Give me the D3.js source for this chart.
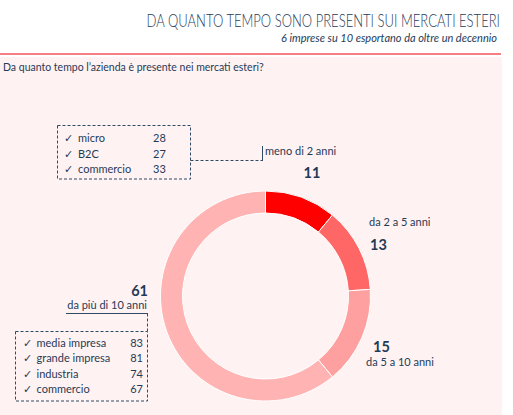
<!DOCTYPE html>
<html lang="it">
<head>
<meta charset="utf-8">
<title>Da quanto tempo sono presenti sui mercati esteri</title>
<script src="https://d3js.org/d3.v7.min.js"></script>
<style>
  body { margin: 0; background: #fff; }
  svg { font-family: Lato, "Open Sans", sans-serif; }
  .t { fill: #1f3b57; }
  .bold { font-weight: bold; }
</style>
</head>
<body>
<div id="viz"></div>
<script>
var categories = ["meno di 2 anni", "da 2 a 5 anni", "da 5 a 10 anni", "da più di 10 anni"];
var values = [11, 13, 15, 61];
var colors = ["#ff0000", "#ff6666", "#ffa0a0", "#ffb3b3"];

var box1Labels = ["micro", "B2C", "commercio"];
var box1Values = [28, 27, 33];
var box2Labels = ["media impresa", "grande impresa", "industria", "commercio"];
var box2Values = [83, 81, 74, 67];

var W = 513, H = 415;
var svg = d3.select("#viz").append("svg").attr("width", W).attr("height", H);

// sfondo rosa + intestazione
svg.append("rect").attr("x", 0).attr("y", 57).attr("width", 502).attr("height", H - 57).attr("fill", "#fff2f2");
svg.append("line").attr("x1", 0).attr("x2", 501).attr("y1", 54).attr("y2", 54)
  .attr("stroke", "#f2555a").attr("stroke-width", 1.5);

// titolo: font stretto in orizzontale per avvicinarsi a Calibri Light
svg.append("g").attr("transform", "translate(500,27) scale(0.745,1)")
  .append("text").attr("class", "t")
  .attr("text-anchor", "end").style("font-size", "17.5px").style("font-weight", 300)
  .text("DA QUANTO TEMPO SONO PRESENTI SUI MERCATI ESTERI");
svg.append("text").attr("class", "t").attr("x", 497).attr("y", 42)
  .attr("text-anchor", "end").style("font-size", "11px").style("font-style", "italic")
  .text("6 imprese su 10 esportano da oltre un decennio");
svg.append("text").attr("class", "t").attr("x", 3).attr("y", 71)
  .style("font-size", "10.5px")
  .text("Da quanto tempo l\u2019azienda è presente nei mercati esteri?");

// ciambella
var cx = 265.5, cy = 296, R = 105, r = 83;
var pie = d3.pie().sort(null).value(function(d) { return d; });
var arc = d3.arc().innerRadius(r).outerRadius(R);
var g = svg.append("g").attr("transform", "translate(" + cx + "," + cy + ")");
g.selectAll("path").data(pie(values)).enter().append("path")
  .attr("d", arc)
  .attr("fill", function(d, i) { return colors[i]; })
  .attr("stroke", "#fff").attr("stroke-width", 1);

// etichette
function label(x, y, txt, opts) {
  var t = svg.append("text").attr("class", "t" + (opts.bold ? " bold" : ""))
    .attr("x", x).attr("y", y).style("font-size", opts.size + "px").text(txt);
  if (opts.anchor) t.attr("text-anchor", opts.anchor);
  return t;
}
label(265, 155, categories[0], {size: 11});
label(312, 178, values[0], {size: 14.5, bold: true, anchor: "middle"});
label(369, 226, categories[1], {size: 11});
label(370, 250, values[1], {size: 14.5, bold: true});
label(373, 352, values[2], {size: 14.5, bold: true});
label(366, 366, categories[2], {size: 11});
label(148, 296, values[3], {size: 14.5, bold: true, anchor: "end"});
label(147, 309, categories[3], {size: 11, anchor: "end"});

var dash = "3,2";
var lineCol = "#2f4b66";

// box 1
svg.append("rect").attr("x", 57.5).attr("y", 125.5).attr("width", 133).attr("height", 53.5)
  .attr("fill", "none").attr("stroke", lineCol).attr("stroke-dasharray", dash);
svg.append("path").attr("d", "M190.5,160.5H262").attr("fill", "none")
  .attr("stroke", lineCol).attr("stroke-dasharray", dash);
svg.append("path").attr("d", "M262.5,146V161").attr("stroke", lineCol);
box1Labels.forEach(function(l, i) {
  var y = 142 + i * 15.5;
  svg.append("text").attr("class", "t").attr("x", 64).attr("y", y)
    .style("font-family", "DejaVu Sans").style("font-size", "11px").text("\u2713");
  label(78, y, l, {size: 11});
  label(153, y, box1Values[i], {size: 11});
});

// box 2
svg.append("path").attr("d", "M66,313.5H148").attr("stroke", lineCol);
svg.append("path").attr("d", "M147.5,313.5V331").attr("stroke", lineCol).attr("stroke-dasharray", dash);
svg.append("rect").attr("x", 15.5).attr("y", 331.5).attr("width", 132).attr("height", 69.5)
  .attr("fill", "none").attr("stroke", lineCol).attr("stroke-dasharray", dash);
box2Labels.forEach(function(l, i) {
  var y = 347 + i * 15.3;
  svg.append("text").attr("class", "t").attr("x", 23).attr("y", y)
    .style("font-family", "DejaVu Sans").style("font-size", "11px").text("\u2713");
  label(36.5, y, l, {size: 11});
  label(143, y, box2Values[i], {size: 11, anchor: "end"});
});
</script>
</body>
</html>
